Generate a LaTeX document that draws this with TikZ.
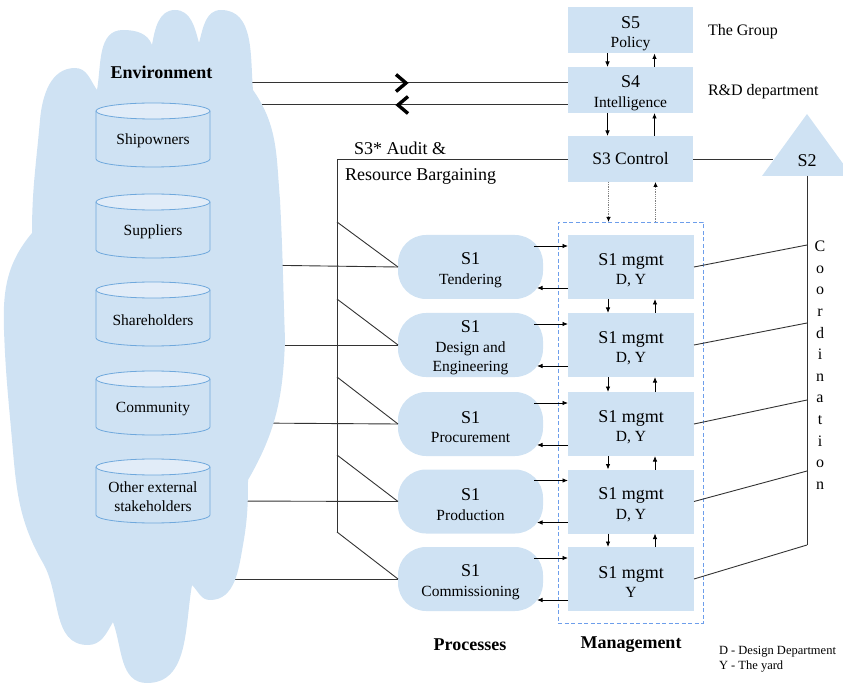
\documentclass[tikz,border=0pt]{standalone}
\usepackage{fontspec}
\setmainfont{Liberation Serif}
\usetikzlibrary{arrows.meta,calc}

\definecolor{paleblue}{HTML}{CFE2F3}
\definecolor{cyltop}{HTML}{E1ECF8}
\definecolor{cylline}{HTML}{6FA8DC}
\definecolor{frameblue}{HTML}{6D9EEB}
\definecolor{wirecol}{HTML}{333333}

\newcommand\fs[2]{\fontsize{#1}{#2}\selectfont}
% first, larger line of a two-level box label (strut keeps the block low)
\newcommand\boxhead[1]{{\fs{18}{20}\rule{0pt}{18pt}#1}}

% a stakeholder drum: name, centre, label
\newcommand\stakeholder[3]{%
  \begin{scope}[shift={#2}]
    \filldraw[cylborder, fill=paleblue] (-57,24) -- (-57,-24)
      arc[start angle=180, end angle=360, x radius=57, y radius=8] -- (57,24);
    \filldraw[cylborder, fill=cyltop] (0,24) ellipse[x radius=57, y radius=8];
    \node[stake] (#1) at (0,-6) {#3};
  \end{scope}}

\pgfdeclarelayer{wires}
\pgfdeclarelayer{cloudlayer}
\pgfsetlayers{wires,cloudlayer,main}

\begin{document}
\begin{tikzpicture}[x=1pt,y=1pt,
  every node/.style={inner sep=0pt, outer sep=0pt},
  box/.style={fill=paleblue, minimum width=126, minimum height=64,
    align=center, font=\fs{15.5}{19.5}},
  topbox/.style={box, minimum width=125, minimum height=46},
  proc/.style={fill=paleblue, rounded corners=28, minimum width=145,
    minimum height=64, align=center, font=\fs{15.5}{19.5}},
  stake/.style={align=center, font=\fs{15.5}{19}},
  cylborder/.style={draw=cylline, line width=0.8pt},
  big/.style={font=\fs{18}{20}},
  heading/.style={font=\bfseries\fs{18}{20}},
  note/.style={font=\fs{16}{18}, anchor=west},
  legend/.style={font=\fs{12.5}{15}, anchor=west},
  wire/.style={draw=wirecol, line width=0.9pt},
  arr/.style={draw=black, line width=0.8pt, -{Latex[length=5.5pt,width=4.5pt]}},
  dotarr/.style={draw=gray, line width=0.8pt, densely dotted,
    -{Latex[length=5pt,width=4.5pt,color=black]}},
  chev/.style={line width=3.4pt, line join=miter, line cap=butt},
]
\useasboundingbox (0,0) rectangle (843,-684);
\clip (0,0) rectangle (843,-684);

% ---------- environment cloud ----------
\begin{pgfonlayer}{cloudlayer}
\fill[paleblue] (32,-233)
  to[out=90,in=-95] (40,-120)
  to[out=85,in=180] (75,-68)
  to[out=0,in=125] (97,-90)
  to[out=80,in=180] (123,-30)
  to[out=0,in=110] (152,-45)
  to[out=80,in=180] (175,-10)
  to[out=0,in=105] (199,-43)
  to[out=75,in=180] (221,-10)
  to[out=0,in=95] (253,-90)
  to[out=-55,in=95] (280,-200)
  to[out=-87,in=92] (285,-340)
  to[out=-92,in=60] (248,-480)
  to[out=-90,in=80] (243,-545)
  to[out=-100,in=0] (210,-600)
  to[out=180,in=-45] (192,-585)
  to[out=-100,in=0] (147,-683)
  to[out=180,in=-70] (113,-622)
  to[out=-120,in=0] (88,-645)
  to[out=180,in=-60] (43,-563)
  to[out=120,in=-85] (12,-440)
  to[out=95,in=-88] (4,-330)
  to[out=92,in=-130] (32,-233)
  -- cycle;
\end{pgfonlayer}

\node[heading] (env) at (161.5,-72) {Environment};
\stakeholder{ship}{(153,-135)}{Shipowners}
\stakeholder{supp}{(153,-226)}{Suppliers}
\stakeholder{share}{(153,-314)}{Shareholders}
\stakeholder{comm}{(153,-403)}{Community}
\stakeholder{other}{(153,-491)}{Other external\\stakeholders}

% ---------- systems 5, 4, 3 ----------
\node[topbox] (s5) at (630.5,-30.5) {\boxhead{S5}\\Policy};
\node[topbox] (s4) at (630.5,-90) {\boxhead{S4}\\Intelligence};
\node[topbox, font=\fs{17.5}{20}] (s3) at (630.5,-159) {S3 Control};

\node[note] (grp) at (708,-32) {The Group};
\node[note] (rnd) at (708,-92) {R\&D department};

% ---------- management frame and operational units ----------
\node[draw=frameblue, dash pattern=on 4pt off 2.5pt, line width=0.8pt,
  minimum width=145, minimum height=401] (frame) at (630.5,-422.5) {};

\node[box] (m1) at (631,-267) {\boxhead{S1 mgmt}\\D, Y};
\node[box] (m2) at (631,-345) {\boxhead{S1 mgmt}\\D, Y};
\node[box] (m3) at (631,-424) {\boxhead{S1 mgmt}\\D, Y};
\node[box] (m4) at (631,-501.5) {\boxhead{S1 mgmt}\\D, Y};
\node[box] (m5) at (631,-579) {\boxhead{S1 mgmt}\\Y};

\node[proc] (p1) at (470.5,-267) {\boxhead{S1}\\Tendering};
\node[proc] (p2) at (470.5,-345) {\boxhead{S1}\\Design and\\Engineering};
\node[proc] (p3) at (470.5,-424) {\boxhead{S1}\\Procurement};
\node[proc] (p4) at (470.5,-501.5) {\boxhead{S1}\\Production};
\node[proc] (p5) at (470.5,-579) {\boxhead{S1}\\Commissioning};

\node[heading] (lproc) at (470,-645) {Processes};
\node[heading] (lmgmt) at (631,-645) {Management};
\node[legend] (lg1) at (719,-652) {D - Design Department};
\node[legend] (lg2) at (719,-667) {Y - The yard};

% ---------- vertical command / feedback channels ----------
\foreach \a/\b in {s5/s4, s4/s3, m1/m2, m2/m3, m3/m4, m4/m5} {
  \draw[arr] ([xshift=-23]\a.south) -- ([xshift=-23]\b.north);
  \draw[arr] ([xshift=24]\b.north) -- ([xshift=24]\a.south);
}
\draw[dotarr] ([xshift=-22]s3.south) -- ([xshift=-22]s3.south |- frame.north);
\draw[dotarr] ([xshift=25]s3.south |- frame.north) -- ([xshift=25]s3.south);

% ---------- processes <-> management ----------
\foreach \i in {1,...,5} {
  \draw[arr] ([shift={(-9,21)}]p\i.east) -- ([yshift=21]m\i.west);
  \draw[arr] ([yshift=-21]m\i.west) -- ([shift={(-6,-21)}]p\i.east);
}

% ---------- S3* audit channel ----------
\node[big, anchor=west] (s3a) at (354,-148) {S3* Audit \&};
\node[big, anchor=west] (s3b) at (345,-176) {Resource Bargaining};
\coordinate (a1) at (337,-222);
\coordinate (a2) at (337,-299);
\coordinate (a3) at (337,-377);
\coordinate (a4) at (337,-455);
\coordinate (a5) at (337,-532);
\draw[wire] (s3.west) -- (s3.west -| a5) -- (a5);
\foreach \i in {1,...,5} \draw[wire] (a\i) -- (p\i.west);

% ---------- environment links (start hidden under the cloud) ----------
\coordinate (envS4a) at (240,-82);
\coordinate (envS4b) at (240,-104);
\coordinate (envP1) at (250,-265);
\coordinate (envP2) at (255,-345);
\coordinate (envP3) at (250,-423);
\coordinate (envP4) at (220,-501);
\coordinate (envP5) at (200,-579);
\begin{pgfonlayer}{wires}
\draw[wire] (envS4a) -- ([yshift=8]s4.west);
\draw[wire] (envS4b) -- ([yshift=-14]s4.west);
\foreach \i in {1,...,5} \draw[wire] (envP\i) -- (p\i.west);
\end{pgfonlayer}
\coordinate (chevR) at (401,-83);
\coordinate (chevL) at (403,-105);
\draw[chev] ([shift={(-5,8.5)}]chevR) -- ([shift={(5,0)}]chevR) -- ([shift={(-5,-8.5)}]chevR);
\draw[chev] ([shift={(5,8.5)}]chevL) -- ([shift={(-5,0)}]chevL) -- ([shift={(5,-8.5)}]chevL);

% ---------- S2 coordination ----------
\fill[paleblue] (762,-176) -- (807,-114) -- (852,-176) -- cycle;
\node[big] (s2) at (807,-161) {S2};
\coordinate (s2in) at (773,-159);
\draw[wire] (s3.east) -- (s2in);
\coordinate (s2base) at (807,-176);
\coordinate (c1) at (807,-245);
\coordinate (c2) at (807,-323);
\coordinate (c3) at (807,-400);
\coordinate (c4) at (807,-471);
\coordinate (c5) at (807,-545);
\draw[wire] (s2base) -- (c5);
\foreach \i in {1,...,5} \draw[wire] (m\i.east) -- (c\i);
\foreach \l [count=\i] in {C,o,o,r,d,i,n,a,t,i,o,n}
  \node[font=\fs{16}{18}, anchor=base] (coord\i) at (820,{-251.7-21.6*(\i-1)}) {\l};
\end{tikzpicture}
\end{document}
